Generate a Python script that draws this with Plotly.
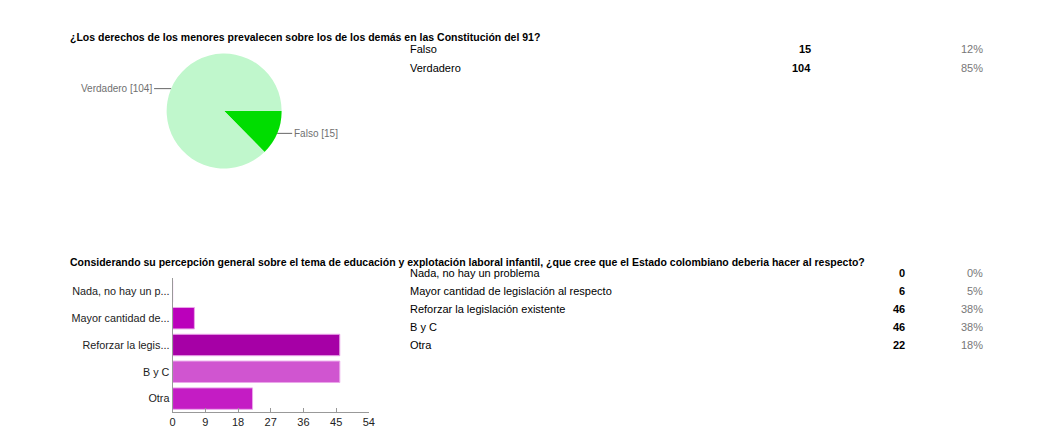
import math
import plotly.graph_objects as go

# sivun body-marginaali siirtää kuvaa ~8 px
OFF = 8
W, H = 1053 - 2 * OFF, 444 - 2 * OFF

# pregunta 1
titulo1 = "¿Los derechos de los menores prevalecen sobre los de los demás en las Constitución del 91?"
pie_etiquetas = ["Falso", "Verdadero"]
pie_valores = [15, 104]
pie_porcentajes = ["12%", "85%"]
pie_colores = ["#00dd00", "#c0f7cc"]

# pregunta 2
titulo2 = ("Considerando su percepción general sobre el tema de educación y explotación laboral infantil, "
           "¿que cree que el Estado colombiano deberia hacer al respecto?")
barra_etiquetas = ["Nada, no hay un problema", "Mayor cantidad de legislación al respecto",
                   "Reforzar la legislación existente", "B y C", "Otra"]
barra_cortas = ["Nada, no hay un p...", "Mayor cantidad de...", "Reforzar la legis...", "B y C", "Otra"]
barra_valores = [0, 6, 46, 46, 22]
barra_porcentajes = ["0%", "5%", "38%", "38%", "18%"]
barra_colores = ["#b000b0", "#bb00bb", "#a600a6", "#d055d0", "#c41cc4"]
x_ticks = [0, 9, 18, 27, 36, 45, 54]

FUENTE = "Liberation Sans, Arial, sans-serif"


def px(x):
    return (x - OFF) / W


def py(y):
    return 1 - (y - OFF) / H


fig = go.Figure()

# piirakka: keskipiste ja säde pikseleinä
cx, cy, r = 223, 111, 58
fig.add_trace(
    go.Pie(
        labels=pie_etiquetas,
        values=pie_valores,
        marker=dict(colors=pie_colores, line=dict(color="white", width=0)),
        sort=False,
        direction="clockwise",
        rotation=90,
        textinfo="none",
        hoverinfo="label+value",
        domain=dict(x=[px(cx - r), px(cx + r)], y=[py(cy + r), py(cy - r)]),
        showlegend=False,
    )
)

fig.add_trace(
    go.Bar(
        y=barra_cortas,
        x=barra_valores,
        orientation="h",
        marker=dict(color=barra_colores, line=dict(color="#eaa6ea", width=1)),
        showlegend=False,
        xaxis="x",
        yaxis="y",
    )
)

annotations = []

# piirakan nimiöt viivoineen
yht = sum(pie_valores)
kertyma = 0
for nimi, arvo in zip(pie_etiquetas, pie_valores):
    keski = (kertyma + arvo / 2) / yht * 360
    kertyma += arvo
    kulma = math.radians(keski)
    hx = cx + r * math.cos(kulma)
    hy = cy + r * math.sin(kulma)
    vasen = math.cos(kulma) < 0
    annotations.append(
        dict(
            x=px(hx), y=py(hy), xref="paper", yref="paper",
            text=f"{nimi} [{arvo}]",
            showarrow=True, arrowhead=0, arrowwidth=1, arrowcolor="#666666",
            ax=-17 if vasen else 15, ay=0, standoff=0,
            xanchor="right" if vasen else "left",
            font=dict(family=FUENTE, size=10, color="#707070"),
        )
    )

# otsikot
for teksti, y in [(titulo1, 38), (titulo2, 262)]:
    annotations.append(
        dict(
            x=px(66), y=py(y), xref="paper", yref="paper", text=f"<b>{teksti}</b>",
            showarrow=False, xanchor="left", yanchor="middle",
            font=dict(family=FUENTE, size=10.5, color="black"),
        )
    )


# taulukot
def taulukko(nimet, arvot, pros, y0, dy, x_arvo):
    for i, (n, a, p) in enumerate(zip(nimet, arvot, pros)):
        y = py(y0 + i * dy)
        annotations.append(dict(x=px(408), y=y, xref="paper", yref="paper", text=n,
                                showarrow=False, xanchor="left", yanchor="middle",
                                font=dict(family=FUENTE, size=11, color="black")))
        annotations.append(dict(x=px(x_arvo), y=y, xref="paper", yref="paper", text=f"<b>{a}</b>",
                                showarrow=False, xanchor="right", yanchor="middle",
                                font=dict(family=FUENTE, size=11, color="black")))
        annotations.append(dict(x=px(991), y=y, xref="paper", yref="paper", text=p,
                                showarrow=False, xanchor="right", yanchor="middle",
                                font=dict(family=FUENTE, size=11, color="#777777")))


taulukko(pie_etiquetas, pie_valores, pie_porcentajes, 49, 19, 817)
taulukko(barra_etiquetas, barra_valores, barra_porcentajes, 273, 18, 912)

fig.update_layout(
    width=W,
    height=H,
    margin=dict(l=0, r=0, t=0, b=0),
    paper_bgcolor="white",
    plot_bgcolor="white",
    font=dict(family=FUENTE, size=11, color="#222222"),
    bargap=0.2,
    xaxis=dict(
        domain=[px(171), px(369)],
        range=[0, 54],
        tickvals=x_ticks,
        ticks="inside",
        ticklen=4,
        tickcolor="#999999",
        showline=True,
        linecolor="#999999",
        showgrid=False,
        zeroline=False,
        fixedrange=True,
        tickfont=dict(size=11, color="#222222"),
        anchor="y",
    ),
    yaxis=dict(
        domain=[py(412), py(278)],
        autorange="reversed",
        showline=True,
        linecolor="#999999",
        showgrid=False,
        ticks="",
        tickfont=dict(size=10.8, color="#222222"),
        anchor="x",
    ),
    annotations=annotations,
)

fig.write_html("out.html")
